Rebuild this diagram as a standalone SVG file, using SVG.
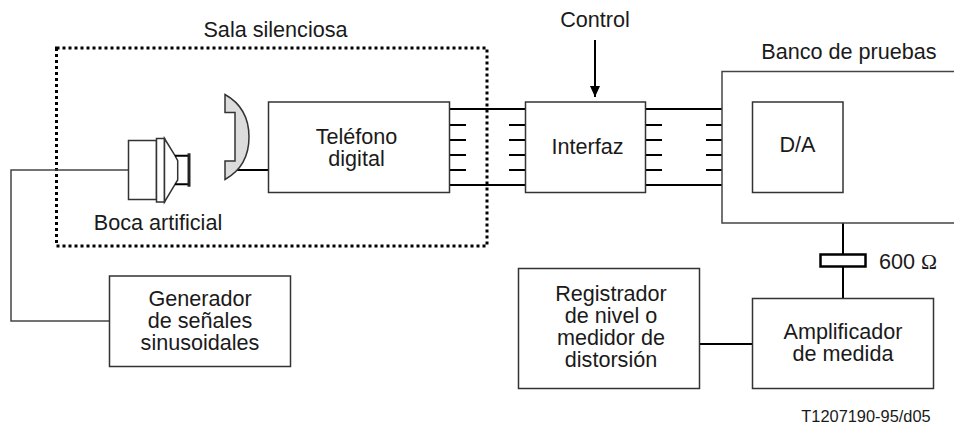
<svg xmlns="http://www.w3.org/2000/svg" width="954" height="424" viewBox="0 0 954 424">
<style>
text{font-family:"Liberation Sans",Arial,sans-serif;font-size:21.600px;fill:#1a1a1a;text-anchor:middle}
.b{fill:#fff;stroke:#333;stroke-width:1.5}
.w{fill:none;stroke:#000;stroke-width:2}
.t{fill:none;stroke:#444;stroke-width:1.5}
</style>
<defs><marker id="a" markerUnits="userSpaceOnUse" markerWidth="12" markerHeight="12" refX="11" refY="6" orient="auto"><path d="M0 1L11 6L0 11Z" fill="#000"/></marker></defs>
<g id="sala"><rect x="56.500" y="48" width="430.500" height="198" fill="none" stroke="#000" stroke-width="3" stroke-dasharray="3 3"/><text x="275.500" y="36.500">Sala silenciosa</text></g>
<g id="connectors">
<path class="t" d="M128 170H11V321H109"/>
<path class="w" d="M236 170H268"/>
<path class="w" d="M450 109H525M450 125H466M450 140H466M450 155H466M450 170H466M450 185H525M509 125H525M509 140H525M509 155H525M509 170H525"/>
<path class="w" d="M645 109H722M645 125H662M645 140H662M645 155H662M645 170H662M645 185H722M706 125H722M706 140H722M706 155H722M706 170H722"/>
<path class="w" d="M595 40V97" marker-end="url(#a)"/>
<path class="w" d="M843 223V298M700 344H752"/>
</g>
<g id="boca"><rect class="b" x="128.500" y="140.500" width="28" height="59"/><rect class="b" x="156.500" y="138.500" width="8" height="63.500"/><path class="b" d="M164.500 138.500L175 155.700L177.700 160.700V180L175 184.300L164.500 202Z"/><path class="w" d="M175 155.700H189M175 184.300H189"/><path d="M189 153.300V186.700" fill="none" stroke="#222" stroke-width="3"/><text x="158" y="230">Boca artificial</text></g>
<g id="microtelefono"><path d="M225 94.500C242 104 249 120 249 137C249 154 242 170 225 179.500V161H235V112.500H225Z" fill="#dcdcdc" stroke="#333" stroke-width="1.500"/></g>
<g id="telefono"><rect class="b" x="268.500" y="102" width="181" height="90.500"/><text x="356.500" y="143.500">Teléfono</text><text x="356.500" y="165.500">digital</text></g>
<g id="interfaz"><rect class="b" x="525.500" y="102" width="120" height="90.500"/><text x="587.500" y="154">Interfaz</text></g>
<g id="control"><text x="595" y="26.500">Control</text></g>
<g id="banco"><path class="t" d="M954 71.500H722V223H954"/><text x="849" y="59">Banco de pruebas</text></g>
<g id="da"><rect class="b" x="752.500" y="102" width="90.500" height="90.500"/><text x="797.500" y="152">D/A</text></g>
<g id="resistor"><rect x="820.500" y="254.500" width="45" height="12" fill="#fff" stroke="#000" stroke-width="2.500"/><text x="908" y="269">600 <tspan font-family="Liberation Serif">Ω</tspan></text></g>
<g id="generador"><rect class="b" x="109.500" y="276" width="181" height="90.500"/><text x="200" y="305.500">Generador</text><text x="200" y="327.500">de señales</text><text x="200" y="349.500">sinusoidales</text></g>
<g id="registrador"><rect class="b" x="518.500" y="268.500" width="181" height="120"/><text x="611" y="300.500">Registrador</text><text x="611" y="322.500">de nivel o</text><text x="611" y="345">medidor de</text><text x="611" y="367">distorsión</text></g>
<g id="amplificador"><rect class="b" x="752.500" y="298.500" width="181" height="90"/><text x="843" y="339">Amplificador</text><text x="843" y="361">de medida</text></g>
<text id="ref" x="866" y="422" style="font-size:16.400px">T1207190-95/d05</text>
</svg>
